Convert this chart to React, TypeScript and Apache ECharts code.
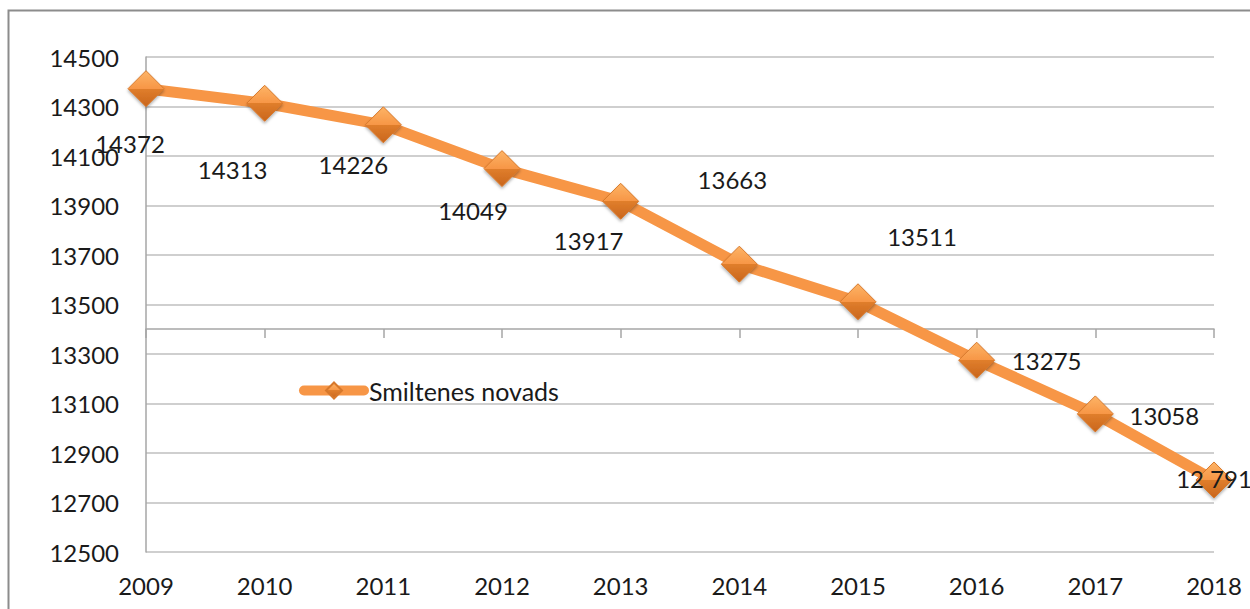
import React, { useEffect, useRef } from "react";
import * as echarts from "echarts";

const years = ["2009", "2010", "2011", "2012", "2013", "2014", "2015", "2016", "2017", "2018"];
const population = [14372, 14313, 14226, 14049, 13917, 13663, 13511, 13275, 13058, 12791];
const valueLabels = ["14372", "14313", "14226", "14049", "13917", "13663", "13511", "13275", "13058", "12 791"];
const seriesName = "Smiltenes novads";

const labelOffsets: [number, number][] = [
  [-16, 55],
  [-32, 66],
  [-30, 40],
  [-29, 42],
  [-32, 39],
  [-7, -85],
  [64, -65],
  [70, 0],
  [69, 2],
  [0, -1],
];

const FONT = "Lato, 'Open Sans', sans-serif";

export default function App() {
  const ref = useRef<HTMLDivElement>(null);
  useEffect(() => {
    document.body.style.margin = "0";
    if (!ref.current) return;
    const chart = echarts.init(ref.current, undefined, { renderer: "svg" });
    const markerGradient = new echarts.graphic.LinearGradient(0, 0, 0, 1, [
      { offset: 0, color: "#FDB466" },
      { offset: 0.5, color: "#F79646" },
      { offset: 0.5, color: "#E07E2C" },
      { offset: 1, color: "#C9661C" },
    ]);
    chart.setOption({
      animation: false,
      backgroundColor: "#fff",
      graphic: [
        {
          type: "rect",
          shape: { x: 8.5, y: 10.5, width: 1300, height: 700 },
          style: { fill: "none", stroke: "#8C8C8C", lineWidth: 2 },
          silent: true,
          z: -10,
        },
      ],
      grid: { left: 146, right: 36, top: 57, bottom: 57 },
      legend: {
        show: true,
        left: 294,
        top: 373,
        itemWidth: 60,
        itemHeight: 20,
        lineStyle: { width: 10, cap: "round" },
        textStyle: { fontFamily: FONT, fontSize: 25, color: "#1a1a1a" },
        data: [seriesName],
      },
      xAxis: [
        {
          type: "category",
          data: years,
          boundaryGap: false,
          axisLine: { show: false },
          axisTick: { show: false },
          axisLabel: { fontFamily: FONT, fontSize: 24, color: "#1a1a1a", margin: 21 },
        },
        {
          type: "category",
          data: years,
          boundaryGap: false,
          position: "bottom",
          offset: -223,
          axisLine: { show: true, lineStyle: { color: "#A6A6A6", width: 1.5 } },
          axisTick: { show: true, length: 9, lineStyle: { color: "#A6A6A6", width: 1.5 } },
          axisLabel: { show: false },
        },
      ],
      yAxis: {
        type: "value",
        min: 12500,
        max: 14500,
        interval: 200,
        axisLine: { show: true, lineStyle: { color: "#A6A6A6", width: 1.5 } },
        axisTick: { show: false },
        splitLine: { show: true, lineStyle: { color: "#BFBFBF", width: 1.5 } },
        axisLabel: {
          fontFamily: FONT,
          fontSize: 24,
          color: "#1a1a1a",
          margin: 27,
          formatter: (v: number) => String(v),
        },
      },
      series: [
        {
          name: seriesName,
          type: "line",
          xAxisIndex: 0,
          data: population.map((v, i) => ({
            value: v,
            label: { offset: labelOffsets[i] },
          })),
          symbol: "diamond",
          symbolSize: 36,
          lineStyle: { color: "#F79646", width: 11, cap: "round", join: "round" },
          itemStyle: {
            color: markerGradient,
            borderColor: "#D7782B",
            borderWidth: 1,
            shadowColor: "rgba(0,0,0,0.3)",
            shadowBlur: 3,
            shadowOffsetY: 2,
          },
          label: {
            show: true,
            position: "inside",
            fontFamily: FONT,
            fontSize: 24,
            color: "#1a1a1a",
            formatter: (p: any) => valueLabels[p.dataIndex],
          },
          z: 5,
        },
      ],
    });
    return () => chart.dispose();
  }, []);
  return <div ref={ref} style={{ width: 1250, height: 609 }} />;
}
